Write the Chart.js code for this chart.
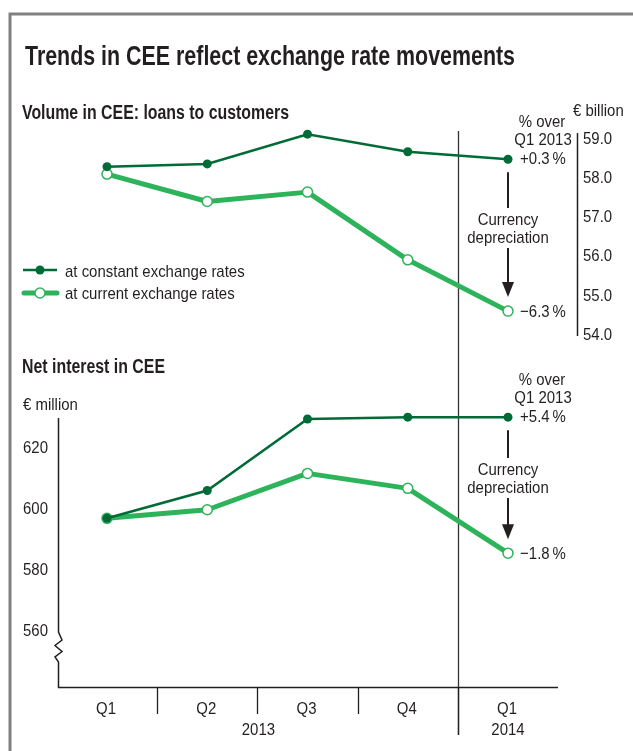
<!DOCTYPE html>
<html>
<head>
<meta charset="utf-8">
<script src="https://cdn.jsdelivr.net/npm/chart.js@4.4.1/dist/chart.umd.min.js"></script>
<style>
  html, body { margin: 0; padding: 0; background: #fff; }
  #wrap { position: relative; width: 633px; height: 751px; }
  #wrap canvas { position: absolute; left: 0; top: 0; }
</style>
</head>
<body>
<div id="wrap">
  <canvas id="loansChart" width="633" height="751"></canvas>
  <canvas id="interestChart" width="633" height="751"></canvas>
</div>
<script>
// ---- data ----
const quarters = ['Q1', 'Q2', 'Q3', 'Q4', 'Q1'];
const years = ['2013', '2014'];

const loansConstant = [58.30, 58.37, 59.13, 58.68, 58.49];
const loansCurrent  = [58.11, 57.41, 57.65, 55.92, 54.61];
const loansTicks = [54, 55, 56, 57, 58, 59];
const loansChange = ['+0.3\u2009%', '\u22126.3\u2009%'];

const interestConstant = [597.1, 606.2, 629.6, 630.2, 630.2];
const interestCurrent  = [597.1, 599.9, 611.8, 606.9, 585.7];
const interestTicks = [560, 580, 600, 620];
const interestChange = ['+5.4\u2009%', '\u22121.8\u2009%'];

// ---- styles ----
const DARK = '#006b36';
const LIGHT = '#2db35a';
const INK = '#231f20';
const FONT = "'Liberation Sans', Arial, sans-serif";
const SQUEEZE = 0.88;   // fake a condensed face

function txt(ctx, s, x, y, size, opts) {
    opts = opts || {};
    ctx.save();
    ctx.font = (opts.bold ? 'bold ' : '') + size + 'px ' + FONT;
    ctx.fillStyle = opts.color || INK;
    ctx.textAlign = opts.align || 'left';
    ctx.textBaseline = opts.baseline || 'alphabetic';
    const sx = opts.width ? opts.width / ctx.measureText(s).width : SQUEEZE;
    ctx.translate(x, y);
    ctx.scale(sx, 1);
    ctx.fillText(s, 0, 0);
    ctx.restore();
}

function line(ctx, pts, color, width) {
    ctx.save();
    ctx.strokeStyle = color;
    ctx.lineWidth = width;
    ctx.beginPath();
    ctx.moveTo(pts[0][0], pts[0][1]);
    for (let i = 1; i < pts.length; i++) ctx.lineTo(pts[i][0], pts[i][1]);
    ctx.stroke();
    ctx.restore();
}

// "% over Q1 2013" block, arrow and change labels next to the last points
function drawAnnotation(chart, consts, currs, changes, lines) {
    const ctx = chart.ctx;
    const xs = chart.scales.x, ys = chart.scales.y;
    const last = consts.length - 1;
    const px = xs.getPixelForValue(last);
    const yTop = ys.getPixelForValue(consts[last]);
    const yBot = ys.getPixelForValue(currs[last]);

    txt(ctx, '% over', 542, yTop - 32, 17, { align: 'center' });
    txt(ctx, 'Q1 2013', 543, yTop - 14, 17, { align: 'center' });
    txt(ctx, changes[0], 543, yTop + 5, 17, { align: 'center' });
    txt(ctx, changes[1], 543, yBot + 6, 17, { align: 'center' });

    txt(ctx, 'Currency', px, lines[0], 17, { align: 'center' });
    txt(ctx, 'depreciation', px, lines[1], 17, { align: 'center' });

    const tip = yBot - 14;
    line(ctx, [[px, yTop + 13], [px, lines[0] - 17]], INK, 2);
    line(ctx, [[px, lines[1] + 5], [px, tip - 12]], INK, 2);
    ctx.save();
    ctx.fillStyle = INK;
    ctx.beginPath();
    ctx.moveTo(px - 6, tip - 15);
    ctx.lineTo(px + 6, tip - 15);
    ctx.lineTo(px, tip);
    ctx.closePath();
    ctx.fill();
    ctx.restore();
}

function datasets(consts, currs) {
    return [{
        label: 'at constant exchange rates',
        data: consts,
        borderColor: DARK,
        backgroundColor: DARK,
        borderWidth: 2.5,
        pointRadius: 4.5,
        pointBackgroundColor: DARK,
        pointBorderWidth: 0,
        clip: false,
    }, {
        label: 'at current exchange rates',
        data: currs,
        borderColor: LIGHT,
        backgroundColor: '#ffffff',
        borderWidth: 5,
        borderJoinStyle: 'round',
        borderCapStyle: 'round',
        pointRadius: 5,
        pointBackgroundColor: '#ffffff',
        pointBorderColor: LIGHT,
        pointBorderWidth: 1.5,
        clip: false,
    }];
}

function baseOptions(padding, yMin, yMax) {
    return {
        responsive: false,
        animation: false,
        events: [],
        layout: { padding: padding },
        plugins: { legend: { display: false }, tooltip: { enabled: false } },
        scales: {
            x: { display: false, offset: false },
            y: { display: false, min: yMin, max: yMax }
        }
    };
}

// ---- top panel: loans ----
const loansDecor = {
    id: 'loansDecor',
    beforeDatasetsDraw(chart) {
        const ctx = chart.ctx;
        const xs = chart.scales.x, ys = chart.scales.y;

        // frame
        line(ctx, [[10, 751], [10, 14], [633, 14]], '#808080', 3);

        txt(ctx, 'Trends in CEE reflect exchange rate movements', 25, 65, 28, { bold: true, width: 490 });
        txt(ctx, 'Volume in CEE: loans to customers', 22, 119, 20, { bold: true, width: 267 });

        // separator between 2013 and 2014
        const sx = Math.round((xs.getPixelForValue(3) + xs.getPixelForValue(4)) / 2) + 0.5;
        line(ctx, [[sx, 131], [sx, 735]], '#333', 1.3);

        // right axis
        txt(ctx, '\u20ac billion', 573, 116, 17);
        line(ctx, [[577.5, 133], [577.5, 336]], INK, 1.5);
        loansTicks.forEach(v => {
            txt(ctx, v.toFixed(1), 583, ys.getPixelForValue(v), 17, { baseline: 'middle' });
        });

        // legend
        line(ctx, [[23, 270], [57, 270]], DARK, 2.5);
        ctx.save();
        ctx.fillStyle = DARK;
        ctx.beginPath(); ctx.arc(40, 270, 4.5, 0, Math.PI * 2); ctx.fill();
        ctx.restore();
        txt(ctx, chart.data.datasets[0].label, 65, 277, 17);

        ctx.save();
        ctx.strokeStyle = LIGHT; ctx.lineWidth = 5; ctx.lineCap = 'round';
        ctx.beginPath(); ctx.moveTo(24, 293); ctx.lineTo(57, 293); ctx.stroke();
        ctx.fillStyle = '#fff'; ctx.lineWidth = 1.5;
        ctx.beginPath(); ctx.arc(40, 293, 5, 0, Math.PI * 2); ctx.fill(); ctx.stroke();
        ctx.restore();
        txt(ctx, chart.data.datasets[1].label, 65, 299, 17);
    },
    afterDatasetsDraw(chart) {
        drawAnnotation(chart, loansConstant, loansCurrent, loansChange, [225, 243]);
    }
};

new Chart(document.getElementById('loansChart'), {
    type: 'line',
    data: { labels: quarters, datasets: datasets(loansConstant, loansCurrent) },
    options: baseOptions({ left: 107, right: 125, top: 119.7, bottom: 416 }, 54, 59.5),
    plugins: [loansDecor]
});

// ---- bottom panel: net interest ----
const interestDecor = {
    id: 'interestDecor',
    beforeDatasetsDraw(chart) {
        const ctx = chart.ctx;
        const xs = chart.scales.x, ys = chart.scales.y;

        txt(ctx, 'Net interest in CEE', 22, 373, 20, { bold: true, width: 143 });
        txt(ctx, '\u20ac million', 23, 410, 17);

        // left axis with break, then x axis
        line(ctx, [[58.5, 418], [58.5, 632], [62, 640], [55, 645.5], [62, 651.5], [55, 657], [58.5, 662],
                   [58.5, 687.5], [558, 687.5]], INK, 1.5);
        interestTicks.forEach(v => {
            txt(ctx, String(v), 23, ys.getPixelForValue(v), 17, { baseline: 'middle' });
        });

        // category ticks
        for (let i = 0; i < quarters.length - 1; i++) {
            const tx = Math.round((xs.getPixelForValue(i) + xs.getPixelForValue(i + 1)) / 2) + 0.5;
            line(ctx, [[tx, 687], [tx, i === quarters.length - 2 ? 735 : 714]], INK, 1.3);
        }
        quarters.forEach((q, i) => {
            txt(ctx, q, xs.getPixelForValue(i) - 1, 714, 17, { align: 'center' });
        });
        const midYear = (xs.getPixelForValue(0) + xs.getPixelForValue(3)) / 2;
        txt(ctx, years[0], midYear + 1, 735, 17, { align: 'center' });
        txt(ctx, years[1], xs.getPixelForValue(4), 735, 17, { align: 'center' });
    },
    afterDatasetsDraw(chart) {
        drawAnnotation(chart, interestConstant, interestCurrent, interestChange, [475, 493]);
    }
};

new Chart(document.getElementById('interestChart'), {
    type: 'line',
    data: { labels: quarters, datasets: datasets(interestConstant, interestCurrent) },
    options: baseOptions({ left: 107, right: 125, top: 387.2, bottom: 119.3 }, 560, 640),
    plugins: [interestDecor]
});
</script>
</body>
</html>
